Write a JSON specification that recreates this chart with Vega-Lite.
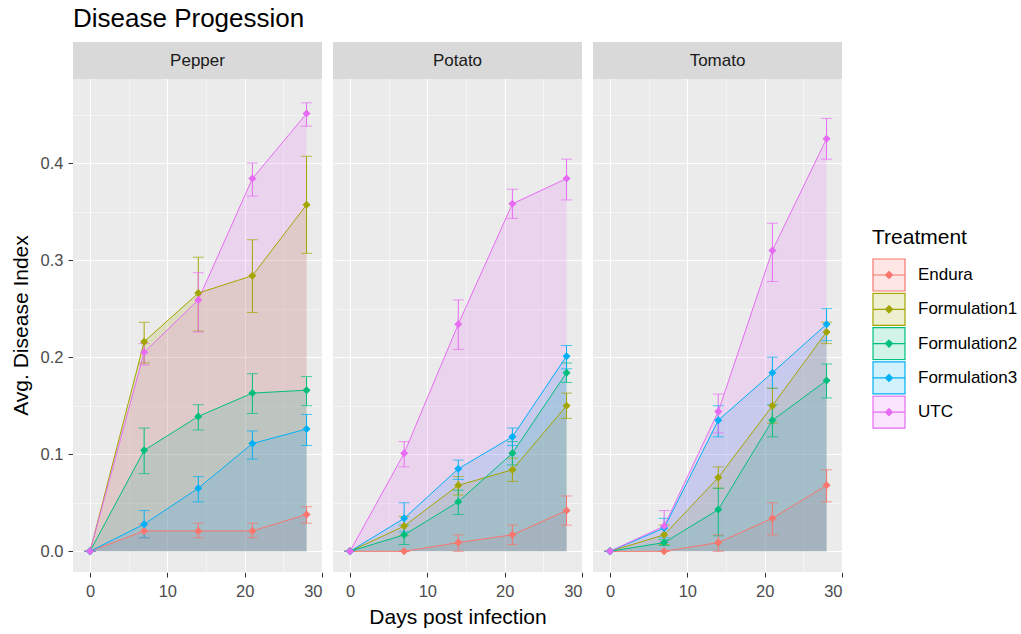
{
  "$schema": "https://vega.github.io/schema/vega-lite/v6.json",
  "background": "white",
  "padding": {"left": 10, "top": 6, "right": 0, "bottom": 0},
  "title": {"text": "Disease Progession", "anchor": "start", "frame": "group", "fontSize": 26, "font": "Liberation Sans", "fontWeight": "normal", "color": "black", "offset": 10},
  "data": {"values": [
    {"Crop": "Pepper", "Treatment": "Endura", "Day": 0, "Mean": 0, "Lo": 0, "Hi": 0},
    {"Crop": "Pepper", "Treatment": "Endura", "Day": 7, "Mean": 0.021, "Lo": 0.014, "Hi": 0.028},
    {"Crop": "Pepper", "Treatment": "Endura", "Day": 14, "Mean": 0.021, "Lo": 0.014, "Hi": 0.029},
    {"Crop": "Pepper", "Treatment": "Endura", "Day": 21, "Mean": 0.021, "Lo": 0.014, "Hi": 0.029},
    {"Crop": "Pepper", "Treatment": "Endura", "Day": 28, "Mean": 0.038, "Lo": 0.029, "Hi": 0.046},
    {"Crop": "Pepper", "Treatment": "Formulation1", "Day": 0, "Mean": 0, "Lo": 0, "Hi": 0},
    {"Crop": "Pepper", "Treatment": "Formulation1", "Day": 7, "Mean": 0.216, "Lo": 0.194, "Hi": 0.236},
    {"Crop": "Pepper", "Treatment": "Formulation1", "Day": 14, "Mean": 0.266, "Lo": 0.227, "Hi": 0.303},
    {"Crop": "Pepper", "Treatment": "Formulation1", "Day": 21, "Mean": 0.284, "Lo": 0.246, "Hi": 0.321},
    {"Crop": "Pepper", "Treatment": "Formulation1", "Day": 28, "Mean": 0.357, "Lo": 0.307, "Hi": 0.407},
    {"Crop": "Pepper", "Treatment": "Formulation2", "Day": 0, "Mean": 0, "Lo": 0, "Hi": 0},
    {"Crop": "Pepper", "Treatment": "Formulation2", "Day": 7, "Mean": 0.104, "Lo": 0.080, "Hi": 0.127},
    {"Crop": "Pepper", "Treatment": "Formulation2", "Day": 14, "Mean": 0.139, "Lo": 0.125, "Hi": 0.151},
    {"Crop": "Pepper", "Treatment": "Formulation2", "Day": 21, "Mean": 0.163, "Lo": 0.142, "Hi": 0.183},
    {"Crop": "Pepper", "Treatment": "Formulation2", "Day": 28, "Mean": 0.166, "Lo": 0.150, "Hi": 0.180},
    {"Crop": "Pepper", "Treatment": "Formulation3", "Day": 0, "Mean": 0, "Lo": 0, "Hi": 0},
    {"Crop": "Pepper", "Treatment": "Formulation3", "Day": 7, "Mean": 0.028, "Lo": 0.014, "Hi": 0.042},
    {"Crop": "Pepper", "Treatment": "Formulation3", "Day": 14, "Mean": 0.065, "Lo": 0.051, "Hi": 0.077},
    {"Crop": "Pepper", "Treatment": "Formulation3", "Day": 21, "Mean": 0.111, "Lo": 0.095, "Hi": 0.124},
    {"Crop": "Pepper", "Treatment": "Formulation3", "Day": 28, "Mean": 0.126, "Lo": 0.109, "Hi": 0.141},
    {"Crop": "Pepper", "Treatment": "UTC", "Day": 0, "Mean": 0, "Lo": 0, "Hi": 0},
    {"Crop": "Pepper", "Treatment": "UTC", "Day": 7, "Mean": 0.205, "Lo": 0.192, "Hi": 0.214},
    {"Crop": "Pepper", "Treatment": "UTC", "Day": 14, "Mean": 0.259, "Lo": 0.226, "Hi": 0.287},
    {"Crop": "Pepper", "Treatment": "UTC", "Day": 21, "Mean": 0.384, "Lo": 0.366, "Hi": 0.400},
    {"Crop": "Pepper", "Treatment": "UTC", "Day": 28, "Mean": 0.451, "Lo": 0.438, "Hi": 0.462},
    {"Crop": "Potato", "Treatment": "Endura", "Day": 0, "Mean": 0, "Lo": 0, "Hi": 0},
    {"Crop": "Potato", "Treatment": "Endura", "Day": 7, "Mean": 0, "Lo": 0, "Hi": 0},
    {"Crop": "Potato", "Treatment": "Endura", "Day": 14, "Mean": 0.009, "Lo": 0, "Hi": 0.017},
    {"Crop": "Potato", "Treatment": "Endura", "Day": 21, "Mean": 0.017, "Lo": 0.007, "Hi": 0.027},
    {"Crop": "Potato", "Treatment": "Endura", "Day": 28, "Mean": 0.042, "Lo": 0.027, "Hi": 0.057},
    {"Crop": "Potato", "Treatment": "Formulation1", "Day": 0, "Mean": 0, "Lo": 0, "Hi": 0},
    {"Crop": "Potato", "Treatment": "Formulation1", "Day": 7, "Mean": 0.026, "Lo": 0.016, "Hi": 0.036},
    {"Crop": "Potato", "Treatment": "Formulation1", "Day": 14, "Mean": 0.068, "Lo": 0.058, "Hi": 0.077},
    {"Crop": "Potato", "Treatment": "Formulation1", "Day": 21, "Mean": 0.084, "Lo": 0.072, "Hi": 0.096},
    {"Crop": "Potato", "Treatment": "Formulation1", "Day": 28, "Mean": 0.150, "Lo": 0.137, "Hi": 0.163},
    {"Crop": "Potato", "Treatment": "Formulation2", "Day": 0, "Mean": 0, "Lo": 0, "Hi": 0},
    {"Crop": "Potato", "Treatment": "Formulation2", "Day": 7, "Mean": 0.017, "Lo": 0.007, "Hi": 0.027},
    {"Crop": "Potato", "Treatment": "Formulation2", "Day": 14, "Mean": 0.051, "Lo": 0.038, "Hi": 0.063},
    {"Crop": "Potato", "Treatment": "Formulation2", "Day": 21, "Mean": 0.101, "Lo": 0.089, "Hi": 0.113},
    {"Crop": "Potato", "Treatment": "Formulation2", "Day": 28, "Mean": 0.184, "Lo": 0.174, "Hi": 0.194},
    {"Crop": "Potato", "Treatment": "Formulation3", "Day": 0, "Mean": 0, "Lo": 0, "Hi": 0},
    {"Crop": "Potato", "Treatment": "Formulation3", "Day": 7, "Mean": 0.034, "Lo": 0.020, "Hi": 0.050},
    {"Crop": "Potato", "Treatment": "Formulation3", "Day": 14, "Mean": 0.085, "Lo": 0.074, "Hi": 0.094},
    {"Crop": "Potato", "Treatment": "Formulation3", "Day": 21, "Mean": 0.118, "Lo": 0.109, "Hi": 0.127},
    {"Crop": "Potato", "Treatment": "Formulation3", "Day": 28, "Mean": 0.201, "Lo": 0.188, "Hi": 0.212},
    {"Crop": "Potato", "Treatment": "UTC", "Day": 0, "Mean": 0, "Lo": 0, "Hi": 0},
    {"Crop": "Potato", "Treatment": "UTC", "Day": 7, "Mean": 0.101, "Lo": 0.087, "Hi": 0.113},
    {"Crop": "Potato", "Treatment": "UTC", "Day": 14, "Mean": 0.234, "Lo": 0.208, "Hi": 0.259},
    {"Crop": "Potato", "Treatment": "UTC", "Day": 21, "Mean": 0.358, "Lo": 0.343, "Hi": 0.373},
    {"Crop": "Potato", "Treatment": "UTC", "Day": 28, "Mean": 0.384, "Lo": 0.362, "Hi": 0.404},
    {"Crop": "Tomato", "Treatment": "Endura", "Day": 0, "Mean": 0, "Lo": 0, "Hi": 0},
    {"Crop": "Tomato", "Treatment": "Endura", "Day": 7, "Mean": 0, "Lo": 0, "Hi": 0},
    {"Crop": "Tomato", "Treatment": "Endura", "Day": 14, "Mean": 0.009, "Lo": 0, "Hi": 0.017},
    {"Crop": "Tomato", "Treatment": "Endura", "Day": 21, "Mean": 0.034, "Lo": 0.017, "Hi": 0.050},
    {"Crop": "Tomato", "Treatment": "Endura", "Day": 28, "Mean": 0.068, "Lo": 0.051, "Hi": 0.084},
    {"Crop": "Tomato", "Treatment": "Formulation1", "Day": 0, "Mean": 0, "Lo": 0, "Hi": 0},
    {"Crop": "Tomato", "Treatment": "Formulation1", "Day": 7, "Mean": 0.017, "Lo": 0.007, "Hi": 0.027},
    {"Crop": "Tomato", "Treatment": "Formulation1", "Day": 14, "Mean": 0.076, "Lo": 0.065, "Hi": 0.087},
    {"Crop": "Tomato", "Treatment": "Formulation1", "Day": 21, "Mean": 0.150, "Lo": 0.132, "Hi": 0.168},
    {"Crop": "Tomato", "Treatment": "Formulation1", "Day": 28, "Mean": 0.226, "Lo": 0.214, "Hi": 0.236},
    {"Crop": "Tomato", "Treatment": "Formulation2", "Day": 0, "Mean": 0, "Lo": 0, "Hi": 0},
    {"Crop": "Tomato", "Treatment": "Formulation2", "Day": 7, "Mean": 0.009, "Lo": 0.006, "Hi": 0.012},
    {"Crop": "Tomato", "Treatment": "Formulation2", "Day": 14, "Mean": 0.043, "Lo": 0.016, "Hi": 0.065},
    {"Crop": "Tomato", "Treatment": "Formulation2", "Day": 21, "Mean": 0.135, "Lo": 0.118, "Hi": 0.151},
    {"Crop": "Tomato", "Treatment": "Formulation2", "Day": 28, "Mean": 0.176, "Lo": 0.158, "Hi": 0.193},
    {"Crop": "Tomato", "Treatment": "Formulation3", "Day": 0, "Mean": 0, "Lo": 0, "Hi": 0},
    {"Crop": "Tomato", "Treatment": "Formulation3", "Day": 7, "Mean": 0.024, "Lo": 0.014, "Hi": 0.034},
    {"Crop": "Tomato", "Treatment": "Formulation3", "Day": 14, "Mean": 0.135, "Lo": 0.118, "Hi": 0.150},
    {"Crop": "Tomato", "Treatment": "Formulation3", "Day": 21, "Mean": 0.184, "Lo": 0.168, "Hi": 0.200},
    {"Crop": "Tomato", "Treatment": "Formulation3", "Day": 28, "Mean": 0.234, "Lo": 0.217, "Hi": 0.250},
    {"Crop": "Tomato", "Treatment": "UTC", "Day": 0, "Mean": 0, "Lo": 0, "Hi": 0},
    {"Crop": "Tomato", "Treatment": "UTC", "Day": 7, "Mean": 0.026, "Lo": 0.010, "Hi": 0.042},
    {"Crop": "Tomato", "Treatment": "UTC", "Day": 14, "Mean": 0.144, "Lo": 0.122, "Hi": 0.162},
    {"Crop": "Tomato", "Treatment": "UTC", "Day": 21, "Mean": 0.310, "Lo": 0.278, "Hi": 0.338},
    {"Crop": "Tomato", "Treatment": "UTC", "Day": 28, "Mean": 0.425, "Lo": 0.404, "Hi": 0.446}
  ]},
  "facet": {"column": {"field": "Crop", "type": "nominal", "header": {"labels": false, "title": "Days post infection", "titleOrient": "bottom", "titleFont": "Liberation Sans", "titleFontSize": 21, "titleFontWeight": "normal", "titleColor": "black", "titlePadding": -3}}},
  "spacing": 11,
  "spec": {
    "width": 249,
    "height": 530,
    "layer": [
      {
        "layer": [
          {
            "mark": {"type": "area", "fillOpacity": 0.18, "strokeWidth": 0},
            "encoding": {
              "x": {"field": "Day", "type": "quantitative", "scale": {"domain": [-2.2, 30], "nice": false, "zero": false},
                "axis": {"values": [0, 10, 20, 30], "title": null, "grid": true, "gridColor": "white", "gridWidth": 1.1, "domain": false, "ticks": true, "tickColor": "#333333", "tickSize": 5, "tickWidth": 1, "labelColor": "#4D4D4D", "labelFontSize": 16.5, "labelFont": "Liberation Sans", "labelPadding": 6}},
              "y": {"field": "Mean", "type": "quantitative", "stack": null, "scale": {"domain": [-0.0213, 0.5247], "nice": false, "zero": false},
                "axis": {"values": [0, 0.1, 0.2, 0.3, 0.4], "format": ".1f", "title": "Avg. Disease Index", "titleFont": "Liberation Sans", "titleFontSize": 21, "titleFontWeight": "normal", "titleColor": "black", "titlePadding": 9, "titleY": 283, "grid": true, "gridColor": "white", "gridWidth": 1.1, "domain": false, "tickColor": "#333333", "tickSize": 5, "tickWidth": 1, "labelColor": "#4D4D4D", "labelFontSize": 16.5, "labelFont": "Liberation Sans", "labelPadding": 5}},
              "y2": {"datum": 0},
              "color": {"field": "Treatment", "type": "nominal",
                "scale": {"domain": ["Endura", "Formulation1", "Formulation2", "Formulation3", "UTC"], "range": ["#F8766D", "#A3A500", "#00BF7D", "#00B0F6", "#E76BF3"]},
                "legend": {"orient": "none", "legendX": 799, "legendY": 185, "title": "Treatment", "titleFont": "Liberation Sans", "titleFontSize": 21, "titleFontWeight": "normal", "titleColor": "black", "titlePadding": 10, "labelFont": "Liberation Sans", "labelFontSize": 17, "labelColor": "black", "labelOffset": 12,
                  "symbolType": "M-1,-1H1V1H-1ZM-1,0H1M0,-0.22L0.22,0L0,0.22L-0.22,0ZM0,-0.15L0.15,0L0,0.15L-0.15,0ZM0,-0.08L0.08,0L0,0.08L-0.08,0ZM0,-0.02L0.02,0L0,0.02L-0.02,0Z",
                  "symbolSize": 1024, "clipHeight": 34, "rowPadding": 0.3,
                  "encode": {"symbols": {"update": {"fill": {"scale": "color", "field": "value"}, "fillOpacity": {"value": 0.18}, "stroke": {"scale": "color", "field": "value"}, "strokeWidth": {"value": 1.2}, "opacity": {"value": 1}}}}}
              }
            }
          },
          {
            "mark": {"type": "rule", "strokeWidth": 1},
            "encoding": {
              "x": {"field": "Day", "type": "quantitative"},
              "y": {"field": "Lo", "type": "quantitative"},
              "y2": {"field": "Hi"},
              "color": {"field": "Treatment", "type": "nominal"}
            }
          },
          {
            "mark": {"type": "tick", "orient": "horizontal", "size": 11, "thickness": 1},
            "encoding": {
              "x": {"field": "Day", "type": "quantitative"},
              "y": {"field": "Lo", "type": "quantitative"},
              "color": {"field": "Treatment", "type": "nominal"}
            }
          },
          {
            "mark": {"type": "tick", "orient": "horizontal", "size": 11, "thickness": 1},
            "encoding": {
              "x": {"field": "Day", "type": "quantitative"},
              "y": {"field": "Hi", "type": "quantitative"},
              "color": {"field": "Treatment", "type": "nominal"}
            }
          },
          {
            "mark": {"type": "line", "strokeWidth": 1},
            "encoding": {
              "x": {"field": "Day", "type": "quantitative"},
              "y": {"field": "Mean", "type": "quantitative"},
              "color": {"field": "Treatment", "type": "nominal"}
            }
          },
          {
            "mark": {"type": "point", "shape": "diamond", "filled": true, "size": 64, "opacity": 1},
            "encoding": {
              "x": {"field": "Day", "type": "quantitative"},
              "y": {"field": "Mean", "type": "quantitative"},
              "color": {"field": "Treatment", "type": "nominal"}
            }
          },
          {
            "transform": [{"aggregate": [], "groupby": ["Crop"]}],
            "mark": {"type": "rect", "fill": "#D9D9D9"},
            "encoding": {
              "x": {"datum": -2.2},
              "x2": {"datum": 30},
              "y": {"datum": 0.4866},
              "y2": {"datum": 0.5247}
            }
          },
          {
            "transform": [{"aggregate": [], "groupby": ["Crop"]}],
            "mark": {"type": "text", "font": "Liberation Sans", "fontSize": 17, "color": "#1A1A1A", "baseline": "middle", "align": "center"},
            "encoding": {
              "x": {"datum": 13.9},
              "y": {"datum": 0.5055},
              "text": {"field": "Crop", "type": "nominal"}
            }
          }
        ]
      },
      {
        "mark": {"type": "point", "opacity": 0},
        "encoding": {
          "x": {"field": "Day", "type": "quantitative", "scale": {"domain": [-2.2, 30], "nice": false, "zero": false},
            "axis": {"values": [5, 15, 25], "orient": "top", "title": null, "grid": true, "gridColor": "white", "gridWidth": 0.5, "labels": false, "ticks": false, "domain": false}},
          "y": {"field": "Mean", "type": "quantitative", "scale": {"domain": [-0.0213, 0.5247], "nice": false, "zero": false},
            "axis": {"values": [0.05, 0.15, 0.25, 0.35, 0.45], "orient": "right", "title": null, "grid": true, "gridColor": "white", "gridWidth": 0.5, "labels": false, "ticks": false, "domain": false}}
        }
      }
    ],
    "resolve": {"axis": {"x": "independent", "y": "independent"}}
  },
  "config": {
    "view": {"fill": "#EBEBEB", "stroke": null},
    "font": "Liberation Sans"
  }
}
